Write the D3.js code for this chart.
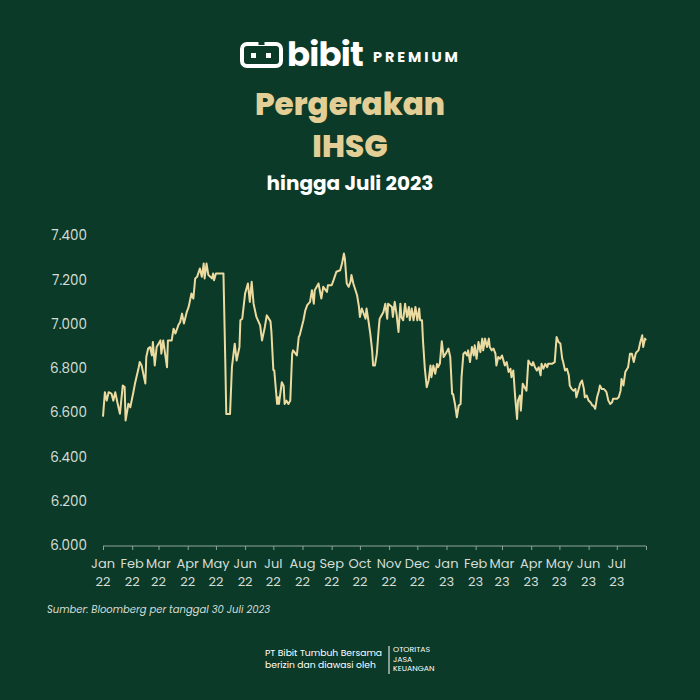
<!DOCTYPE html>
<html><head><meta charset="utf-8">
<script src="https://cdn.jsdelivr.net/npm/d3@7"></script>
<style>html,body{margin:0;padding:0;background:#0c3a28;}svg{display:block;}</style>
</head><body>
<svg id="chart" width="700" height="700"></svg>
<script>
const dates = ["2022-01-01","2022-01-03","2022-01-05","2022-01-07","2022-01-10","2022-01-12","2022-01-14","2022-01-17","2022-01-19","2022-01-22","2022-01-24","2022-01-25","2022-01-28","2022-01-30","2022-02-02","2022-02-04","2022-02-08","2022-02-09","2022-02-11","2022-02-15","2022-02-16","2022-02-18","2022-02-20","2022-02-22","2022-02-23","2022-02-25","2022-02-27","2022-03-03","2022-03-04","2022-03-06","2022-03-10","2022-03-11","2022-03-15","2022-03-17","2022-03-19","2022-03-22","2022-03-24","2022-03-26","2022-03-28","2022-03-31","2022-04-02","2022-04-05","2022-04-07","2022-04-09","2022-04-11","2022-04-14","2022-04-16","2022-04-18","2022-04-19","2022-04-21","2022-04-23","2022-04-27","2022-04-28","2022-04-29","2022-05-01","2022-05-09","2022-05-11","2022-05-12","2022-05-16","2022-05-18","2022-05-21","2022-05-23","2022-05-26","2022-05-27","2022-05-29","2022-06-01","2022-06-03","2022-06-04","2022-06-06","2022-06-08","2022-06-10","2022-06-13","2022-06-17","2022-06-19","2022-06-22","2022-06-24","2022-06-28","2022-06-29","2022-07-01","2022-07-02","2022-07-05","2022-07-06","2022-07-07","2022-07-10","2022-07-12","2022-07-13","2022-07-15","2022-07-17","2022-07-19","2022-07-21","2022-07-22","2022-07-26","2022-07-28","2022-07-29","2022-08-02","2022-08-04","2022-08-06","2022-08-09","2022-08-11","2022-08-13","2022-08-14","2022-08-18","2022-08-21","2022-08-23","2022-08-27","2022-08-28","2022-09-01","2022-09-03","2022-09-06","2022-09-10","2022-09-12","2022-09-14","2022-09-15","2022-09-17","2022-09-19","2022-09-21","2022-09-22","2022-09-24","2022-09-28","2022-09-30","2022-10-01","2022-10-03","2022-10-07","2022-10-08","2022-10-10","2022-10-12","2022-10-14","2022-10-15","2022-10-17","2022-10-19","2022-10-21","2022-10-22","2022-10-26","2022-10-28","2022-10-30","2022-10-31","2022-11-04","2022-11-05","2022-11-07","2022-11-09","2022-11-11","2022-11-13","2022-11-14","2022-11-16","2022-11-18","2022-11-20","2022-11-22","2022-11-23","2022-11-25","2022-11-27","2022-11-29","2022-12-01","2022-12-03","2022-12-04","2022-12-06","2022-12-07","2022-12-09","2022-12-11","2022-12-13","2022-12-15","2022-12-16","2022-12-18","2022-12-20","2022-12-22","2022-12-23","2022-12-25","2022-12-27","2022-12-29","2023-01-01","2023-01-03","2023-01-05","2023-01-07","2023-01-08","2023-01-10","2023-01-12","2023-01-14","2023-01-16","2023-01-17","2023-01-19","2023-01-21","2023-01-23","2023-01-24","2023-01-26","2023-01-28","2023-01-30","2023-01-31","2023-02-02","2023-02-04","2023-02-06","2023-02-08","2023-02-09","2023-02-11","2023-02-13","2023-02-15","2023-02-16","2023-02-18","2023-02-20","2023-02-22","2023-02-23","2023-02-25","2023-02-27","2023-03-01","2023-03-02","2023-03-04","2023-03-06","2023-03-08","2023-03-10","2023-03-11","2023-03-13","2023-03-15","2023-03-17","2023-03-18","2023-03-20","2023-03-21","2023-03-23","2023-03-26","2023-03-27","2023-03-29","2023-03-31","2023-04-02","2023-04-03","2023-04-05","2023-04-07","2023-04-09","2023-04-11","2023-04-12","2023-04-14","2023-04-16","2023-04-18","2023-04-19","2023-04-23","2023-04-26","2023-04-28","2023-04-30","2023-05-02","2023-05-04","2023-05-05","2023-05-07","2023-05-09","2023-05-11","2023-05-12","2023-05-14","2023-05-16","2023-05-18","2023-05-19","2023-05-21","2023-05-23","2023-05-25","2023-05-27","2023-05-28","2023-05-30","2023-06-01","2023-06-03","2023-06-05","2023-06-06","2023-06-08","2023-06-10","2023-06-12","2023-06-13","2023-06-15","2023-06-17","2023-06-19","2023-06-20","2023-06-22","2023-06-24","2023-06-26","2023-06-27","2023-07-01","2023-07-03","2023-07-05","2023-07-06","2023-07-08","2023-07-10","2023-07-12","2023-07-13","2023-07-15","2023-07-17","2023-07-19","2023-07-21","2023-07-22","2023-07-24","2023-07-26","2023-07-28","2023-07-29","2023-07-31","2023-08-01"];
const ihsg = [6580,6690,6652,6690,6684,6652,6690,6630,6593,6720,6713,6562,6638,6622,6684,6729,6803,6826,6811,6729,6849,6887,6894,6856,6917,6811,6894,6924,6864,6924,6803,6924,6924,6977,6955,6992,7007,7045,7000,7052,7075,7136,7113,7204,7211,7249,7211,7271,7204,7271,7219,7204,7226,7196,7226,7226,6818,6592,6592,6803,6909,6833,6894,7015,7022,7136,7166,7181,7098,7189,7090,7030,6992,6924,6985,7037,7010,6960,6790,6788,6637,6667,6637,6735,6718,6637,6652,6637,6652,6864,6879,6856,6939,6947,7015,7060,7083,7098,7151,7090,7151,7181,7113,7166,7143,7173,7173,7196,7234,7241,7271,7316,7294,7181,7166,7189,7219,7181,7128,7075,7030,7068,7022,7068,7015,6955,6879,6811,6811,6864,6977,7022,7052,7090,7022,7090,7075,7030,7098,7040,6962,7090,7030,7015,7090,7030,7075,7015,7068,7015,7075,7015,7068,7015,7015,6924,6796,6713,6743,6811,6758,6811,6773,6818,6803,6820,6920,6849,6870,6887,6849,6682,6682,6637,6577,6630,6637,6758,6864,6871,6856,6879,6826,6894,6856,6902,6841,6917,6871,6932,6879,6932,6894,6932,6894,6879,6887,6864,6811,6849,6841,6856,6841,6811,6826,6781,6796,6758,6788,6667,6569,6652,6675,6607,6728,6705,6697,6833,6818,6811,6826,6803,6788,6803,6766,6818,6796,6818,6803,6818,6818,6826,6939,6917,6910,6841,6826,6788,6796,6766,6720,6705,6697,6705,6667,6697,6728,6743,6705,6667,6675,6652,6645,6630,6630,6615,6667,6697,6720,6705,6705,6697,6690,6652,6637,6645,6660,6660,6667,6697,6750,6720,6781,6796,6803,6864,6864,6826,6864,6871,6879,6917,6947,6894,6932,6924];
const yTicks = [6000,6200,6400,6600,6800,7000,7200,7400];
const monthLabels = ["Jan","Feb","Mar","Apr","May","Jun","Jul","Aug","Sep","Oct","Nov","Dec"];
const xDomain = ["2022-01-01","2023-08-01"];

const parse = d3.timeParse("%Y-%m-%d");
const data = dates.map((d,i)=>({date:parse(d), value:ihsg[i]}));

const svg = d3.select("#chart");
const W = 700, H = 700;
const bg = "#0c3a28", lineCol = "#ecdba0", gold = "#e3cf95", axisText = "#d3ddd7";
const font = "Poppins, Inter, 'Noto Sans', sans-serif";

svg.append("rect").attr("width",W).attr("height",H).attr("fill",bg);

// logo
const logo = svg.append("g");
logo.append("rect").attr("x",242).attr("y",44).attr("width",39).attr("height",22).attr("rx",5)
  .attr("fill","none").attr("stroke","#fff").attr("stroke-width",4);
logo.append("rect").attr("x",258.5).attr("y",40).attr("width",6).attr("height",5).attr("fill",bg);
logo.append("rect").attr("x",251).attr("y",53).attr("width",5).attr("height",5).attr("fill","#fff");
logo.append("rect").attr("x",266).attr("y",53).attr("width",5).attr("height",5).attr("fill","#fff");
logo.append("text").attr("x",287).attr("y",65.5).attr("font-family",font).attr("font-weight",700)
  .attr("font-size",34).attr("fill","#fff").attr("letter-spacing",-0.8).text("bibit");
logo.append("text").attr("x",373).attr("y",62).attr("font-family",font).attr("font-weight",700)
  .attr("font-size",14.5).attr("fill","#fff").attr("letter-spacing",2.9).text("PREMIUM");

// titles
svg.append("text").attr("x",350).attr("y",115).attr("text-anchor","middle").attr("font-family",font)
  .attr("font-weight",800).attr("font-size",31).attr("fill",gold).text("Pergerakan");
svg.append("text").attr("x",350).attr("y",157).attr("text-anchor","middle").attr("font-family",font)
  .attr("font-weight",800).attr("font-size",31).attr("fill",gold).text("IHSG");
svg.append("text").attr("x",350).attr("y",190).attr("text-anchor","middle").attr("font-family",font)
  .attr("font-weight",700).attr("font-size",20).attr("fill","#fff").text("hingga Juli 2023");

// scales
const x = d3.scaleTime().domain(xDomain.map(parse)).range([103,646]);
const y = d3.scaleLinear().domain([6000,7400]).range([545,235]);

const loc = d3.formatLocale({decimal:",",thousands:".",grouping:[3],currency:["Rp",""]});
const fmt = loc.format(",.0f");

// y axis labels (no line)
const yAxis = d3.axisLeft(y).tickValues(yTicks).tickFormat(fmt).tickSize(0).tickPadding(0);
const gy = svg.append("g").attr("transform","translate(87,0)").call(yAxis);
gy.select(".domain").remove();
gy.selectAll("text").attr("font-family",font).attr("font-size",13.5).attr("fill",axisText).attr("dy","0.35em");

// x axis
const monthTicks = d3.timeMonth.range(parse("2022-01-01"), d3.timeDay.offset(parse("2023-08-01"),1));
const xAxis = d3.axisBottom(x).tickValues(monthTicks).tickSize(4).tickFormat("");
const gx = svg.append("g").attr("transform","translate(0,546)").call(xAxis);
gx.select(".domain").attr("stroke","#8ea596").attr("stroke-width",1).attr("d","M103,0H646");
gx.selectAll(".tick line").attr("stroke","#8ea596");
const labelTicks = monthTicks.filter(d=>d < parse("2023-08-01"));
const lab = svg.append("g");
labelTicks.forEach(d=>{
  const t = lab.append("text").attr("x",x(d)).attr("text-anchor","middle")
    .attr("font-family",font).attr("font-size",13).attr("fill",axisText);
  t.append("tspan").attr("x",x(d)).attr("y",568).text(monthLabels[d.getMonth()]);
  t.append("tspan").attr("x",x(d)).attr("y",586).text(String(d.getFullYear()).slice(2));
});

// line
const line = d3.line().x(d=>x(d.date)).y(d=>y(d.value)).curve(d3.curveLinear);
svg.append("path").datum(data).attr("d",line).attr("fill","none").attr("stroke",lineCol)
  .attr("stroke-width",2).attr("stroke-linejoin","round");

// source
svg.append("text").attr("x",47).attr("y",613).attr("font-family",font).attr("font-style","italic")
  .attr("font-size",10).attr("fill",axisText).text("Sumber: Bloomberg per tanggal 30 Juli 2023");

// footer
const ft = svg.append("g").attr("font-family",font).attr("fill","#fff");
ft.append("text").attr("x",265).attr("y",656).attr("font-size",9.2).text("PT Bibit Tumbuh Bersama");
ft.append("text").attr("x",265).attr("y",668).attr("font-size",9.2).text("berizin dan diawasi oleh");
svg.append("line").attr("x1",389).attr("x2",389).attr("y1",646).attr("y2",674).attr("stroke","#fff").attr("stroke-width",1);
ft.append("text").attr("x",393).attr("y",652).attr("font-size",7.8).text("OTORITAS");
ft.append("text").attr("x",393).attr("y",661.5).attr("font-size",7.8).text("JASA");
ft.append("text").attr("x",393).attr("y",671).attr("font-size",7.8).text("KEUANGAN");
</script>
</body></html>
